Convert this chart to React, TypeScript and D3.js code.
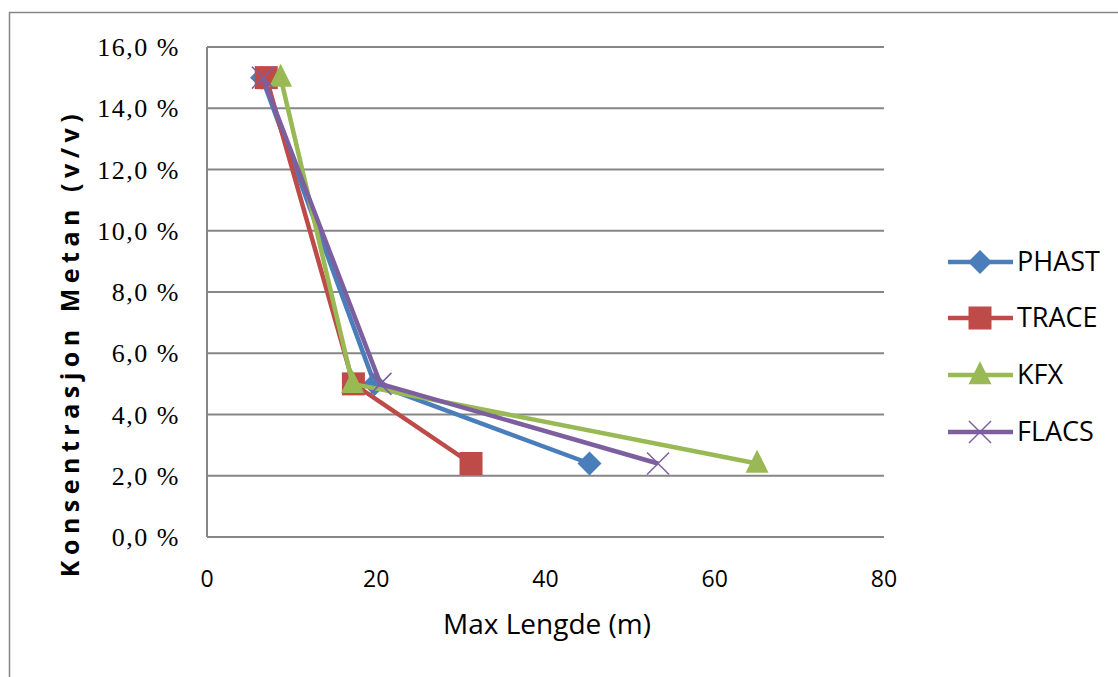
import React from "react";
import * as d3 from "d3";

const seriesNames = ["PHAST", "TRACE", "KFX", "FLACS"];
const phastX = [6.5, 19.8, 45.2];
const traceX = [7.0, 17.3, 31.2];
const kfxX = [8.7, 17.2, 65.0];
const flacsX = [6.6, 20.5, 53.3];
const concY = [15, 5, 2.4];
const yTicks = [0, 2, 4, 6, 8, 10, 12, 14, 16];
const xTicks = [0, 20, 40, 60, 80];
const colors = ["#4A7EBB", "#BE4B48", "#98B954", "#7D5FA0"];
const markers = ["diamond", "square", "triangle", "x"];

const FONT = "'Open Sans', sans-serif";
const SERIF = "'Liberation Serif', serif";

function Marker({ type, color, x, y }: { type: string; color: string; x: number; y: number }) {
  if (type === "diamond") {
    const r = 12;
    return <path d={`M${x},${y - r}L${x + r},${y}L${x},${y + r}L${x - r},${y}Z`} fill={color} />;
  }
  if (type === "square") {
    const s = 23;
    return <rect x={x - s / 2} y={y - s / 2} width={s} height={s} fill={color} />;
  }
  if (type === "triangle") {
    const h = 23, w = 23;
    return <path d={`M${x},${y - h * 0.6}L${x + w / 2},${y + h * 0.4}L${x - w / 2},${y + h * 0.4}Z`} fill={color} />;
  }
  const r = 11;
  return (
    <g stroke={color} strokeWidth={1.5}>
      <line x1={x - r} y1={y - r} x2={x + r} y2={y + r} />
      <line x1={x - r} y1={y + r} x2={x + r} y2={y - r} />
    </g>
  );
}

export default function App() {
  const x = d3.scaleLinear().domain([0, 80]).range([207, 884]);
  const y = d3.scaleLinear().domain([0, 16]).range([537, 47]);
  const allX = [phastX, traceX, kfxX, flacsX];
  const line = d3
    .line<[number, number]>()
    .x((d) => x(d[0]))
    .y((d) => y(d[1]));
  const legendY = [262, 318, 375, 432];

  return (
    <svg
      width={1118}
      height={677}
      style={{ position: "absolute", left: 0, top: 0, display: "block", background: "#fff" }}
    >
      <rect x={9.5} y={12.5} width={1120} height={680} fill="#fff" stroke="#868686" strokeWidth={1.5} />
      {yTicks.map((t) => (
        <line key={t} x1={x(0)} x2={x(80)} y1={y(t)} y2={y(t)} stroke="#868686" strokeWidth={2} />
      ))}
      <line x1={x(0)} x2={x(0)} y1={y(0)} y2={y(16)} stroke="#868686" strokeWidth={2} />
      {yTicks.map((t) => (
        <text
          key={t}
          x={180}
          y={y(t)}
          dy="0.35em"
          textAnchor="end"
          fontFamily={SERIF}
          fontSize={26}
          letterSpacing={1.5}
          fill="#000"
        >
          {d3.format(".1f")(t).replace(".", ",") + " %"}
        </text>
      ))}
      {xTicks.map((t) => (
        <text key={t} x={x(t)} y={579} dy="0.35em" textAnchor="middle" fontFamily={FONT} fontSize={23} fill="#000">
          {t}
        </text>
      ))}
      <text x={547} y={624} dy="0.35em" textAnchor="middle" fontFamily={FONT} fontSize={28} fill="#000">
        Max Lengde (m)
      </text>
      <text
        transform={`translate(70,${343}) rotate(-90)`}
        dy="0.35em"
        textAnchor="middle"
        fontFamily={FONT}
        fontSize={25}
        fontWeight="bold"
        letterSpacing={5.5}
        fill="#000"
      >
        Konsentrasjon Metan (v/v)
      </text>
      {allX.map((xs, i) => {
        const pts: [number, number][] = xs.map((v, j) => [v, concY[j]]);
        return (
          <g key={seriesNames[i]}>
            <path d={line(pts) || ""} fill="none" stroke={colors[i]} strokeWidth={4.5} strokeLinejoin="round" />
            {pts.map((p, j) => (
              <Marker key={j} type={markers[i]} color={colors[i]} x={x(p[0])} y={y(p[1])} />
            ))}
          </g>
        );
      })}
      {seriesNames.map((name, i) => (
        <g key={name}>
          <line x1={948} x2={1013} y1={legendY[i]} y2={legendY[i]} stroke={colors[i]} strokeWidth={4.5} />
          <Marker type={markers[i]} color={colors[i]} x={980} y={legendY[i]} />
          <text x={1017} y={legendY[i]} dy="0.35em" fontFamily={FONT} fontSize={27} fill="#000">
            {name}
          </text>
        </g>
      ))}
    </svg>
  );
}
